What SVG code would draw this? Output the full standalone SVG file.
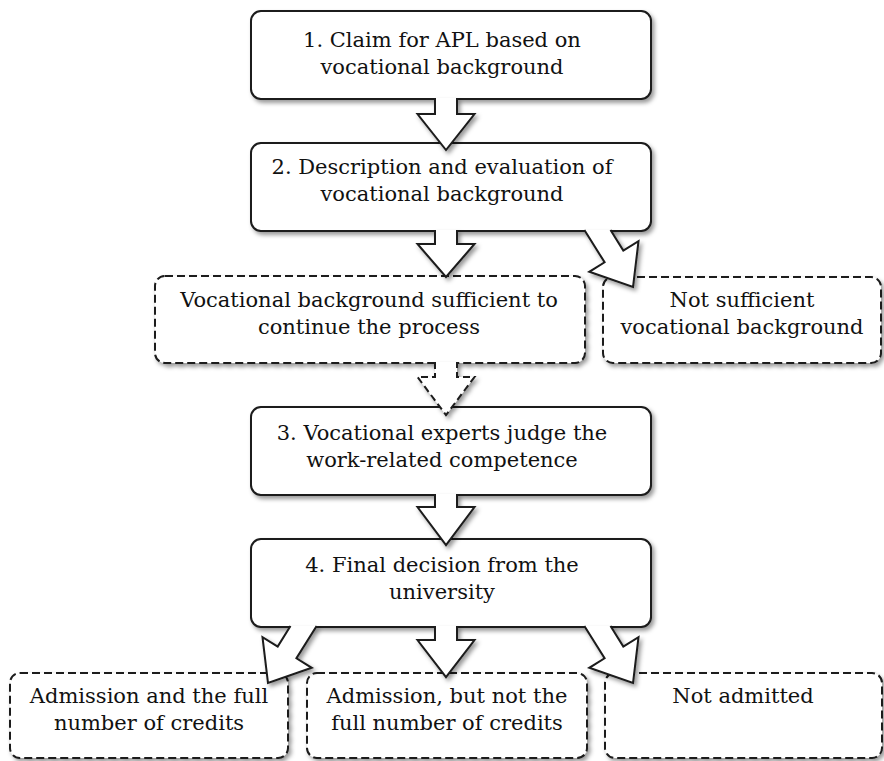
<svg xmlns="http://www.w3.org/2000/svg" width="884" height="761" viewBox="0 0 884 761">
<defs>
<filter id="sh" x="-10%" y="-10%" width="125%" height="130%">
<feDropShadow dx="2.5" dy="3" stdDeviation="2" flood-color="#000" flood-opacity="0.4"/>
</filter>
<style>
.box{fill:#fff;stroke:#1a1a1a;stroke-width:2;filter:url(#sh)}
.dash{fill:#fff;stroke:#1a1a1a;stroke-width:2;stroke-dasharray:8 4;filter:url(#sh)}
.arr{fill:#fff;stroke:#1a1a1a;stroke-width:2;stroke-linejoin:miter;filter:url(#sh)}
.darr{fill:#fff;stroke:#1a1a1a;stroke-width:2;stroke-dasharray:7 4;filter:url(#sh)}
text{font-family:"DejaVu Serif","Liberation Serif",serif;font-size:21px;fill:#111;text-anchor:middle}
</style>
</defs>
<rect width="884" height="761" fill="#fff"/>
<g id="n1"><rect class="box" x="251" y="11" width="400" height="88" rx="10"/>
<text x="442" y="47">1. Claim for APL based on</text><text x="442" y="74">vocational background</text></g>
<g id="n2"><rect class="box" x="251" y="143" width="400" height="88" rx="10"/>
<text x="442" y="174">2. Description and evaluation of</text><text x="442" y="201">vocational background</text></g>
<g id="nA"><rect class="dash" x="155" y="276" width="430" height="87" rx="10"/>
<text x="369" y="307">Vocational background sufficient to</text><text x="369" y="334">continue the process</text></g>
<g id="nB"><rect class="dash" x="603" y="277" width="278" height="86" rx="10"/>
<text x="742" y="307">Not sufficient</text><text x="742" y="334">vocational background</text></g>
<g id="n3"><rect class="box" x="251" y="407" width="400" height="88" rx="10"/>
<text x="442" y="440">3. Vocational experts judge the</text><text x="442" y="467">work-related competence</text></g>
<g id="n4"><rect class="box" x="251" y="539" width="400" height="88" rx="10"/>
<text x="442" y="572">4. Final decision from the</text><text x="442" y="599">university</text></g>
<g id="nL"><rect class="dash" x="10" y="673" width="278" height="85" rx="10"/>
<text x="149" y="703">Admission and the full</text><text x="149" y="730">number of credits</text></g>
<g id="nM"><rect class="dash" x="307" y="673" width="280" height="85" rx="10"/>
<text x="447" y="703">Admission, but not the</text><text x="447" y="730">full number of credits</text></g>
<g id="nR"><rect class="dash" x="605" y="673" width="277" height="85" rx="10"/>
<text x="743" y="703">Not admitted</text></g>
<g id="connectors">
<path class="arr" d="M435,98 L435,114 L417.5,114 L446,150 L474.5,114 L457,114 L457,98"/>
<path class="arr" d="M435,230 L435,244 L417.5,244 L446,277 L474.5,244 L457,244 L457,230"/>
<path class="arr" d="M584.4,230 L604.6,262.3 L589.3,271.8 L633,287 L638.5,241.1 L623.3,250.6 L610.5,230"/>
<path class="darr" d="M435,362 L435,377 L417.5,377 L446,415 L474.5,377 L457,377 L457,362"/>
<path class="arr" d="M435,494 L435,507 L417.5,507 L446,545 L474.5,507 L457,507 L457,494"/>
<path class="arr" d="M435,626 L435,640 L417.5,640 L446,677 L474.5,640 L457,640 L457,626"/>
<path class="arr" d="M584.4,626 L604.6,658.3 L589.3,667.8 L633,683 L638.5,637.1 L623.3,646.6 L610.5,626"/>
<path class="arr" d="M316.6,626 L296.4,658.3 L311.7,667.8 L268,683 L262.5,637.1 L277.7,646.6 L290.5,626"/>
</g>
</svg>
